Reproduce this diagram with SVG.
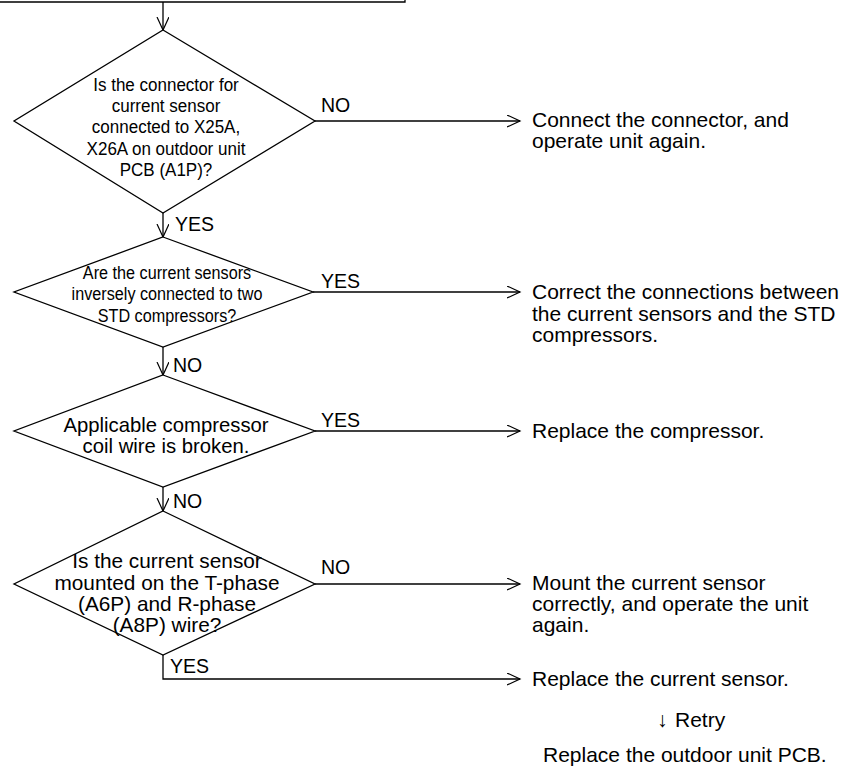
<svg xmlns="http://www.w3.org/2000/svg" width="854" height="767" viewBox="0 0 854 767">
<style>
  .shape { fill: #fff; stroke: #000; stroke-width: 1.3; }
  .conn { fill: none; stroke: #000; stroke-width: 1.3; }
  text { font-family: "Liberation Sans", Arial, sans-serif; fill: #000; }
  .d1 { font-size: 18px; text-anchor: middle; }
  .d2 { font-size: 17.6px; text-anchor: middle; }
  .d3 { font-size: 20.3px; text-anchor: middle; }
  .d4 { font-size: 20.8px; text-anchor: middle; }
  .lbl { font-size: 19.5px; }
  .act { font-size: 21px; }
</style>
<defs>
  <marker id="arr" markerUnits="userSpaceOnUse" markerWidth="16" markerHeight="16" refX="13" refY="6" orient="auto">
    <path d="M0,0 L13,6 L0,12" fill="none" stroke="#000" stroke-width="1.2"/>
  </marker>
</defs>

<g id="connectors">
  <path class="conn" d="M0,2 H405 V0" stroke-width="2"/>
  <path class="conn" d="M163,2 V30" marker-end="url(#arr)"/>
  <path class="conn" d="M315,121 H520" marker-end="url(#arr)"/>
  <path class="conn" d="M163,213 V237" marker-end="url(#arr)"/>
  <path class="conn" d="M313,292 H520" marker-end="url(#arr)"/>
  <path class="conn" d="M163,347 V375" marker-end="url(#arr)"/>
  <path class="conn" d="M315,431 H520" marker-end="url(#arr)"/>
  <path class="conn" d="M163,487 V511" marker-end="url(#arr)"/>
  <path class="conn" d="M315,584 H520" marker-end="url(#arr)"/>
  <path class="conn" d="M163,655 V679 H520" marker-end="url(#arr)"/>
  <text class="lbl" x="321" y="112">NO</text>
  <text class="lbl" x="175" y="231">YES</text>
  <text class="lbl" x="321" y="288">YES</text>
  <text class="lbl" x="173" y="372">NO</text>
  <text class="lbl" x="321" y="427">YES</text>
  <text class="lbl" x="173" y="508">NO</text>
  <text class="lbl" x="321" y="574">NO</text>
  <text class="lbl" x="170" y="673">YES</text>
</g>

<g id="d1">
  <polygon class="shape" points="163,30 315,121 163,213 14,121"/>
  <g transform="translate(166,0) scale(0.945,1)">
    <text class="d1" x="0" y="91">Is the connector for</text>
    <text class="d1" x="0" y="112.5">current sensor</text>
    <text class="d1" x="0" y="133.5">connected to X25A,</text>
    <text class="d1" x="0" y="155">X26A on outdoor unit</text>
    <text class="d1" x="0" y="176">PCB (A1P)?</text>
  </g>
</g>

<g id="d2">
  <polygon class="shape" points="163,237 313,292 163,347 14,292"/>
  <g transform="translate(167,0) scale(0.92,1)">
    <text class="d2" x="0" y="279">Are the current sensors</text>
    <text class="d2" x="0" y="300.5">inversely connected to two</text>
    <text class="d2" x="0" y="322">STD compressors?</text>
  </g>
</g>

<g id="d3">
  <polygon class="shape" points="163,375 315,431 163,487 14,431"/>
  <text class="d3" x="166" y="432">Applicable compressor</text>
  <text class="d3" x="166" y="453">coil wire is broken.</text>
</g>

<g id="d4">
  <polygon class="shape" points="163,511 315,584 163,655 14,584"/>
  <text class="d4" x="167" y="568">Is the current sensor</text>
  <text class="d4" x="167" y="590">mounted on the T-phase</text>
  <text class="d4" x="167" y="611">(A6P) and R-phase</text>
  <text class="d4" x="167" y="632">(A8P) wire?</text>
</g>

<g id="a1">
  <text class="act" x="532" y="127">Connect the connector, and</text>
  <text class="act" x="532" y="148">operate unit again.</text>
</g>

<g id="a2">
  <text class="act" x="532" y="299">Correct the connections between</text>
  <text class="act" x="532" y="320.5">the current sensors and the STD</text>
  <text class="act" x="532" y="342">compressors.</text>
</g>

<g id="a3">
  <text class="act" x="532" y="438">Replace the compressor.</text>
</g>

<g id="a4">
  <text class="act" x="532" y="590">Mount the current sensor</text>
  <text class="act" x="532" y="611">correctly, and operate the unit</text>
  <text class="act" x="532" y="632">again.</text>
</g>

<g id="a5">
  <text class="act" x="532" y="686">Replace the current sensor.</text>
  <text class="act" x="657" y="727">↓ <tspan x="675">Retry</tspan></text>
  <text class="act" x="543" y="762">Replace the outdoor unit PCB.</text>
</g>
</svg>
